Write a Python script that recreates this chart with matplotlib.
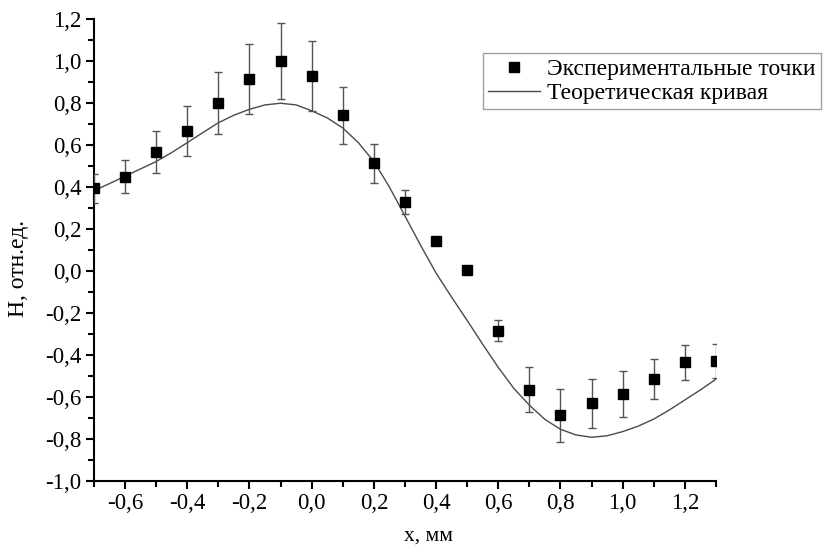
import matplotlib
matplotlib.use("Agg")
import matplotlib.pyplot as plt
from matplotlib.ticker import MultipleLocator, FuncFormatter

plt.rcParams['font.family'] = ['Liberation Serif', 'DejaVu Serif']

# Experimental points
x_exp = [-0.7, -0.6, -0.5, -0.4, -0.3, -0.2, -0.1, 0.0, 0.1, 0.2,
         0.3, 0.4, 0.5, 0.6, 0.7, 0.8, 0.9, 1.0, 1.1, 1.2, 1.3]
y_exp = [0.394, 0.450, 0.566, 0.669, 0.800, 0.916, 1.001, 0.930, 0.742, 0.513,
         0.328, 0.145, 0.003, -0.285, -0.567, -0.688, -0.631, -0.588, -0.515, -0.436, -0.428]
y_err = [0.07, 0.08, 0.10, 0.12, 0.147, 0.168, 0.182, 0.169, 0.135, 0.093,
         0.058, 0.0, 0.0, 0.051, 0.107, 0.127, 0.117, 0.109, 0.095, 0.082, 0.081]

# Theoretical curve
x_th = [-0.7, -0.65, -0.6, -0.55, -0.5, -0.45, -0.4, -0.35, -0.3, -0.25, -0.2, -0.15,
        -0.1, -0.05, 0.0, 0.05, 0.1, 0.15, 0.2, 0.25, 0.3, 0.35, 0.4, 0.45, 0.5,
        0.55, 0.6, 0.65, 0.7, 0.75, 0.8, 0.85, 0.9, 0.95, 1.0, 1.05, 1.1, 1.15,
        1.2, 1.25, 1.3]
y_th = [0.383, 0.417, 0.452, 0.487, 0.522, 0.565, 0.612, 0.660, 0.707, 0.743, 0.771, 0.792,
        0.800, 0.792, 0.764, 0.730, 0.682, 0.612, 0.522, 0.400, 0.262, 0.123, -0.010, -0.125, -0.236,
        -0.350, -0.460, -0.560, -0.640, -0.708, -0.755, -0.782, -0.793, -0.786, -0.766, -0.740, -0.706, -0.663,
        -0.615, -0.567, -0.516]

label_pts = 'Экспериментальные точки'
label_th = 'Теоретическая кривая'
xlabel = 'x, мм'
ylabel = 'H, отн.ед.'

fig = plt.figure(figsize=(8.26, 5.53), dpi=100)
ax = fig.add_axes([0.1138, 0.1308, 0.8668 - 0.1138, 0.965 - 0.1308])

line_th, = ax.plot(x_th, y_th, color='#4a4a4a', lw=1.0, zorder=2)
ax.errorbar(x_exp, y_exp, yerr=y_err, fmt='none', ecolor='#555555',
            elinewidth=1.0, capsize=3.2, capthick=1.0, zorder=3)
pts, = ax.plot(x_exp, y_exp, 's', color='black', markersize=6.8, zorder=4)

ax.set_xlim(-0.7, 1.3)
ax.set_ylim(-1.0, 1.2)

for s in ['top', 'right']:
    ax.spines[s].set_visible(False)
for s in ['left', 'bottom']:
    ax.spines[s].set_linewidth(1.5)

ax.xaxis.set_major_locator(MultipleLocator(0.2))
ax.xaxis.set_minor_locator(MultipleLocator(0.1))
ax.yaxis.set_major_locator(MultipleLocator(0.2))
ax.yaxis.set_minor_locator(MultipleLocator(0.1))

def fmt(v, pos):
    if abs(v) < 1e-9:
        v = 0.0
    return ('%.1f' % v).replace('.', ',')

ax.xaxis.set_major_formatter(FuncFormatter(fmt))
ax.yaxis.set_major_formatter(FuncFormatter(fmt))
ax.tick_params(which='major', direction='out', length=6, width=1.5, labelsize=16.5, pad=3)
ax.tick_params(which='minor', direction='out', length=4, width=1.5)

ax.set_xlabel(xlabel, fontsize=15.5)
ax.xaxis.set_label_coords(0.537, -0.100)
ax.set_ylabel(ylabel, fontsize=17)
ax.yaxis.set_label_coords(-0.104, 0.461)

leg = fig.legend([pts, line_th], [label_pts, label_th], loc='upper left',
                 bbox_to_anchor=(0.585, 0.904), bbox_transform=fig.transFigure,
                 fontsize=17, frameon=True, fancybox=False, borderaxespad=0,
                 handlelength=2.2, handletextpad=0.3, borderpad=0.22, labelspacing=0.12)
leg.get_frame().set_edgecolor('#888888')
leg.get_frame().set_linewidth(1.0)

fig.savefig('out.png', dpi=100)
